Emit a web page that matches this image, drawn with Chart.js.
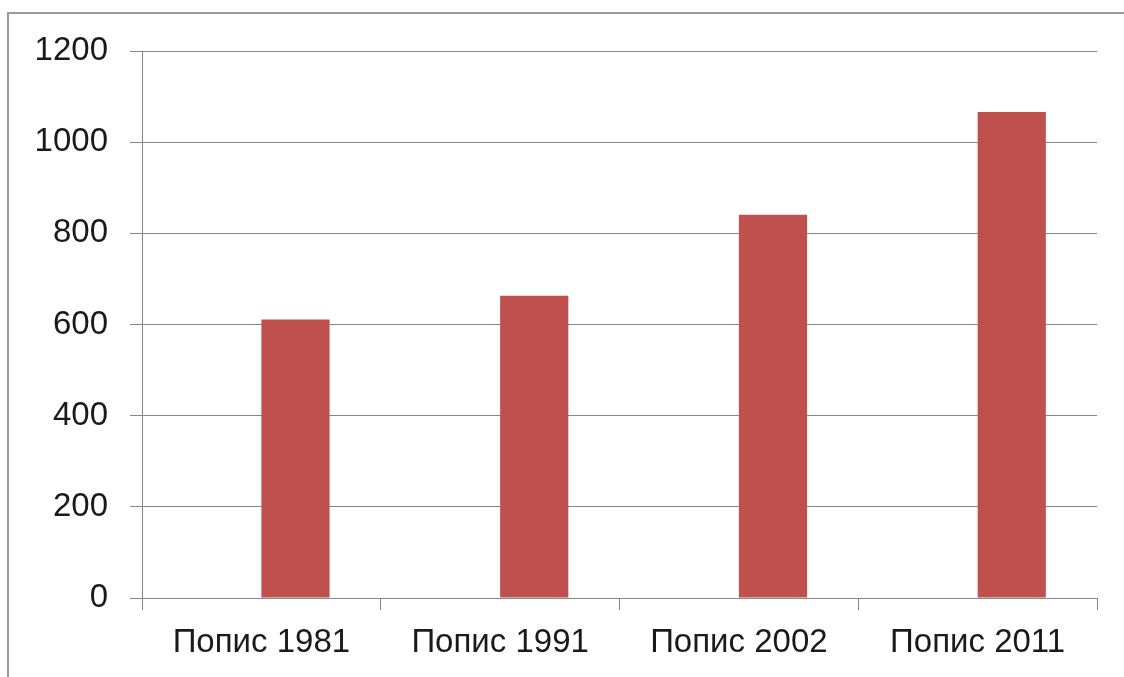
<!DOCTYPE html>
<html>
<head>
<meta charset="utf-8">
<script src="https://cdn.jsdelivr.net/npm/chart.js@4.4.1/dist/chart.umd.min.js"></script>
<style>
  html, body { margin: 0; padding: 0; background: #fff; }
  #wrap { width: 1124px; height: 677px; position: relative; }
</style>
</head>
<body>
<div id="wrap"><canvas id="chart" width="1124" height="677"></canvas></div>
<script>
const categories = ['Попис 1981', 'Попис 1991', 'Попис 2002', 'Попис 2011'];
const emptySeries = [null, null, null, null];
const population = [611, 663, 841, 1066];
const yMin = 0;
const yMax = 1200;
const yStep = 200;

const lineGray = '#868686';
const textColor = '#1a1a1a';
const labelFont = { family: "'Liberation Sans', Arial, sans-serif", size: 33 };

// outer frame of the chart object (cropped on the right and bottom)
const framePlugin = {
  id: 'frame',
  beforeDraw(c) {
    const ctx = c.ctx;
    ctx.save();
    ctx.fillStyle = '#fff';
    ctx.fillRect(0, 0, c.width, c.height);
    ctx.strokeStyle = '#999';
    ctx.lineWidth = 2;
    ctx.strokeRect(8, 13, 1140, 700);
    ctx.restore();
  }
};

new Chart(document.getElementById('chart').getContext('2d'), {
  type: 'bar',
  data: {
    labels: categories,
    datasets: [
      { label: '', data: emptySeries, backgroundColor: '#4F81BD' },
      { label: '', data: population, backgroundColor: '#C0504D', borderWidth: 0 }
    ]
  },
  options: {
    responsive: false,
    animation: false,
    events: [],
    categoryPercentage: 2 / 3.5,
    barPercentage: 1,
    layout: { padding: { top: 51, right: 27, left: 0, bottom: 0 } },
    plugins: {
      legend: { display: false },
      tooltip: { enabled: false }
    },
    scales: {
      x: {
        afterFit: (s) => { s.height = 79; },
        grid: {
          offset: true,
          drawOnChartArea: false,
          drawTicks: true,
          tickLength: 12,
          color: lineGray,
          lineWidth: 1
        },
        border: { color: lineGray, width: 1 },
        ticks: {
          color: textColor,
          padding: 13,
          maxRotation: 0,
          font: labelFont
        }
      },
      y: {
        min: yMin,
        max: yMax,
        afterFit: (s) => { s.width = 142; },
        grid: {
          color: lineGray,
          lineWidth: 1,
          tickLength: 12
        },
        border: { color: lineGray, width: 1 },
        ticks: {
          stepSize: yStep,
          color: textColor,
          padding: 22,
          font: labelFont,
          callback: (v) => String(v)
        }
      }
    }
  },
  plugins: [framePlugin]
});
</script>
</body>
</html>
